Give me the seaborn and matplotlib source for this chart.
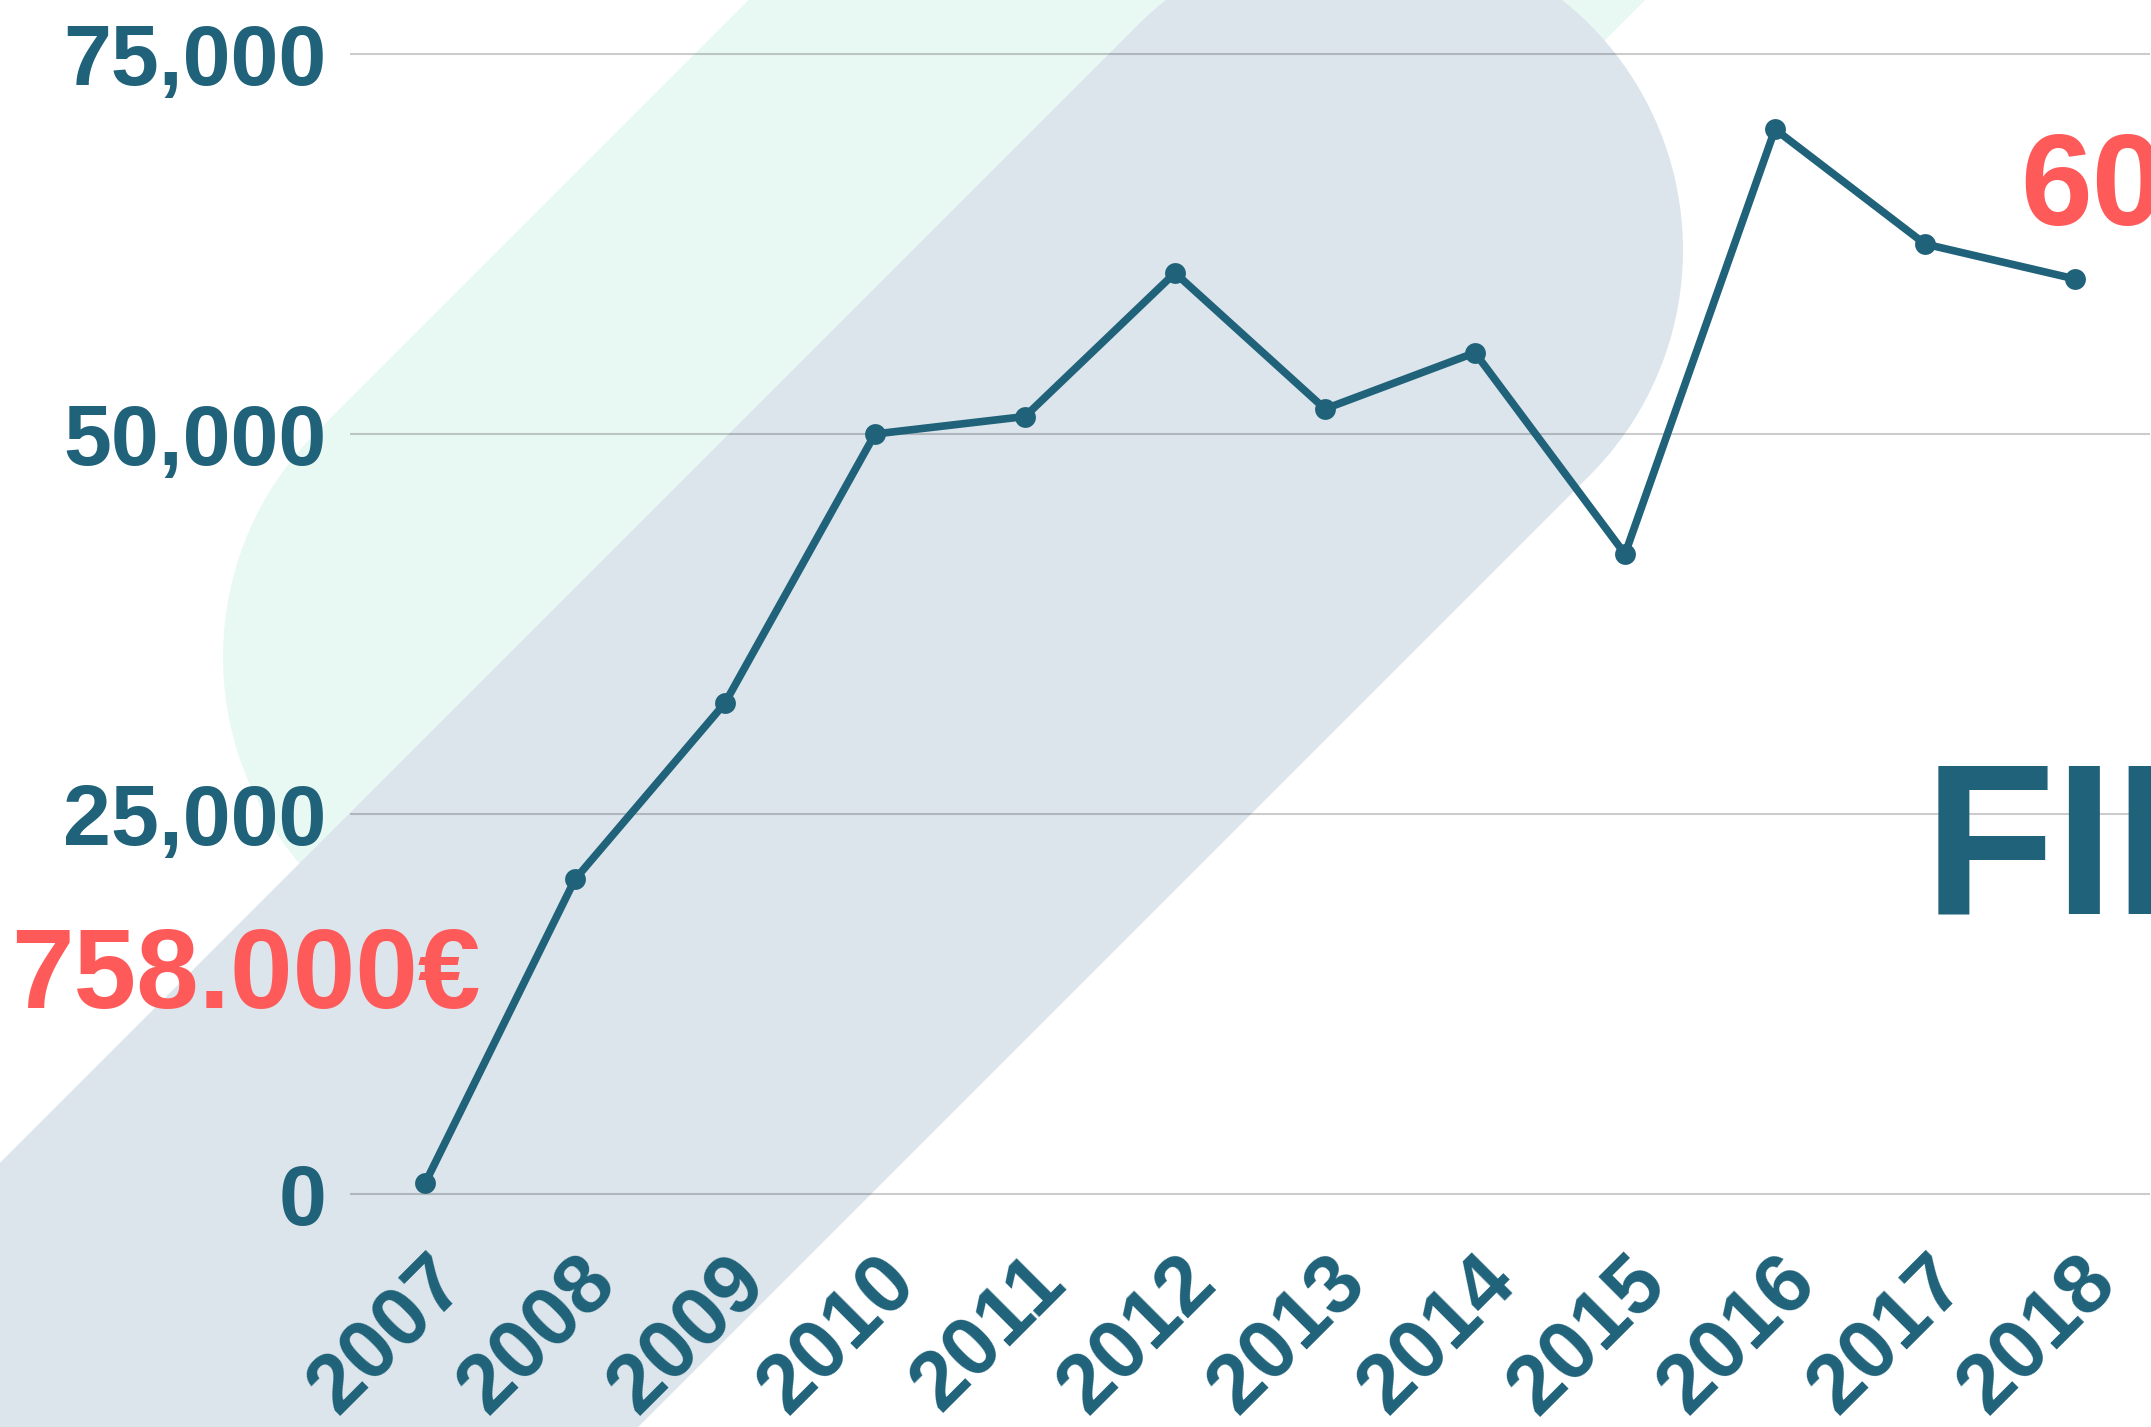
import numpy as np
import pandas as pd
import matplotlib
matplotlib.use("Agg")
import matplotlib.pyplot as plt
from matplotlib.patches import Polygon
import seaborn as sns

# ---------------------------------------------------------------------
# Data
# ---------------------------------------------------------------------
years = [2007, 2008, 2009, 2010, 2011, 2012, 2013, 2014, 2015, 2016, 2017, 2018]
values = [700, 20700, 32300, 50000, 51150, 60600, 51650, 55350, 42100, 70050, 62500, 60200]
ytick_values = [0, 25000, 50000, 75000]
ytick_labels = ["0", "25,000", "50,000", "75,000"]

TEAL = "#1f6279"
RED = "#ff5a5a"
GREEN_BG = "#e8f8f2"
GREY_BG = "#dce5eb"

W, H = 2151, 1427

sns.set_theme(style="white")
plt.rcParams["font.family"] = ["Liberation Sans", "DejaVu Sans"]
plt.rcParams["font.weight"] = "bold"

fig = plt.figure(figsize=(W / 100, H / 100), dpi=100)
fig.patch.set_facecolor("white")


def capsule(cx, cy, r, length, direction, n=80):
    """Stadium shape in image pixels: round cap at (cx, cy), body going along direction."""
    d = np.array(direction, dtype=float)
    d /= np.linalg.norm(d)
    base = np.arctan2(d[1], d[0])
    ang = np.linspace(base + np.pi / 2, base + 3 * np.pi / 2, n)
    cap = np.column_stack([cx + r * np.cos(ang), cy + r * np.sin(ang)])
    far = np.array([cx, cy]) + d * length
    perp = np.array([-d[1], d[0]])
    end = np.array([far - perp * r, far + perp * r])
    pts = np.vstack([cap, end])
    # image pixels -> figure fraction (y flipped)
    return np.column_stack([pts[:, 0] / W, 1 - pts[:, 1] / H])


# decorative background bands
green = Polygon(capsule(540, 657, 317, 2600, (1, -1)), closed=True,
                facecolor=GREEN_BG, edgecolor="none", transform=fig.transFigure, zorder=-3)
grey = Polygon(capsule(1364, 250, 319, 2600, (-1, 1)), closed=True,
               facecolor=GREY_BG, edgecolor="none", transform=fig.transFigure, zorder=-2)
fig.add_artist(green)
fig.add_artist(grey)

# axes placement: 0 at y=1194 px, 75,000 at y=54 px, first year at x=425 px
px_per_unit = 380 / 25000
ybot_val = -1000
ytop_val = 75000 + 54 / px_per_unit
ax_bottom_px = 1194 + (-ybot_val) * px_per_unit
ax = fig.add_axes([350 / W, 1 - ax_bottom_px / H, 1800 / W, ax_bottom_px / H])
ax.set_facecolor("none")

df = pd.DataFrame({"year": years, "value": values})
sns.lineplot(data=df, x="year", y="value", ax=ax, color=TEAL, linewidth=5.5,
             marker="o", markersize=15, markeredgewidth=0, zorder=5)

ax.set_xlim(years[0] - 0.5, years[-1] + 0.5)
ax.set_ylim(ybot_val, ytop_val)
ax.set_xlabel("")
ax.set_ylabel("")

for v in ytick_values:
    ax.axhline(v, color="black", alpha=0.2, linewidth=1.5, zorder=1)

ax.set_yticks(ytick_values)
ax.set_yticklabels(ytick_labels, fontsize=62, fontweight="bold", color=TEAL)
ax.set_xticks(years)
ax.set_xticklabels([str(y) for y in years], fontsize=60, fontweight="bold", color=TEAL,
                   rotation=45, ha="right", rotation_mode="anchor")
ax.tick_params(axis="y", length=0, pad=17)
ax.tick_params(axis="x", length=0, pad=24)
ax.grid(False)
for s in ax.spines.values():
    s.set_visible(False)

# large annotation texts (run off the right edge in the original)
fig.text(11 / W, 1 - 1008 / H, "758.000€", color=RED, fontsize=81,
         fontweight="bold", va="baseline", ha="left")
fig.text(2020 / W, 1 - 225 / H, "60", color=RED, fontsize=93,
         fontweight="bold", va="baseline", ha="left")
fig.text(1924 / W, 1 - 913 / H, "FII", color=TEAL, fontsize=155,
         fontweight="bold", va="baseline", ha="left")

fig.savefig("out.png", dpi=100, facecolor="white")
